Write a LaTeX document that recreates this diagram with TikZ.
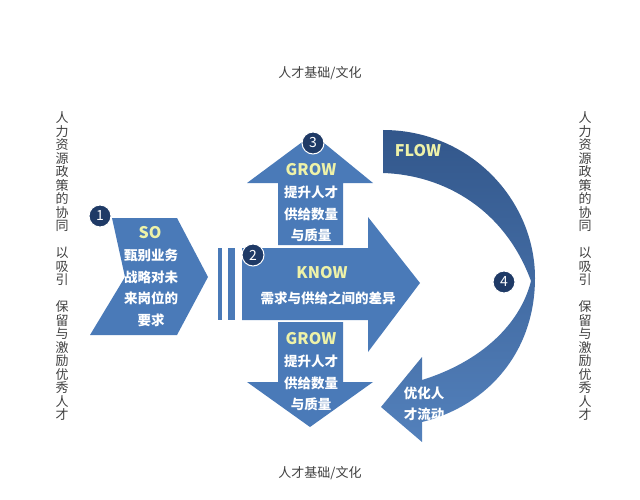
\documentclass[tikz,border=0pt]{standalone}
\usepackage{fontspec}
\newfontfamily\cjk{Noto Sans CJK SC}
\usetikzlibrary{positioning}
\definecolor{shapeblue}{HTML}{4A7AB8}
\definecolor{navy}{HTML}{1F3A66}
\definecolor{paleyellow}{HTML}{EEF2A8}
\tikzset{
  shapefill/.style={fill=shapeblue, draw=none},
  numdot/.style={circle, fill=navy, draw=white, line width=1pt, minimum size=22pt, inner sep=0pt, text=white, font=\cjk\fontsize{14}{14}\selectfont},
  engtext/.style={text=paleyellow, font=\cjk\bfseries\fontsize{16}{16}\selectfont},
  cntext/.style={text=white, align=center, font=\cjk\bfseries\fontsize{13.5}{21.5}\selectfont},
  sidetext/.style={align=center, text=black!75, font=\cjk\fontsize{13}{13.5}\selectfont}
}
\begin{document}
\begin{tikzpicture}[x=1pt, y=-1pt]
\useasboundingbox (0,0) rectangle (640,500);

% Side and top texts %
\node[sidetext] (topbase) at (320,73) {人才基础/文化};
\node[sidetext] (botbase) at (320,473) {人才基础/文化};
\node[sidetext] (leftcol) at (62,266) {人\\力\\资\\源\\政\\策\\的\\协\\同\\ \\以\\吸\\引\\ \\保\\留\\与\\激\\励\\优\\秀\\人\\才};
\node[sidetext] (rightcol) at (585,266) {人\\力\\资\\源\\政\\策\\的\\协\\同\\ \\以\\吸\\引\\ \\保\\留\\与\\激\\励\\优\\秀\\人\\才};

% Shapes %
\fill[shapefill] (112,218) -- (177,218) -- (208,277) -- (177,335) -- (90,335) -- (125,277) -- cycle;
\fill[shapefill] (218,248) rectangle (222,320);
\fill[shapefill] (228,248) rectangle (235,320);
\fill[shapefill] (242,248) -- (368,248) -- (368,217) -- (420,283) -- (368,352) -- (368,320) -- (242,320) -- cycle;
\fill[shapefill] (278,245) -- (278,183) -- (247,183) -- (313,134) -- (373,183) -- (343,183) -- (343,245) -- cycle;
\fill[shapefill] (278,322) -- (278,382) -- (247,382) -- (310,427) -- (373,382) -- (343,382) -- (343,322) -- cycle;
\shade[top color=navy!55!shapeblue, bottom color=shapeblue!95!white]
  (383,130) .. controls (470,130) and (535,200) .. (535,278)
  .. controls (535,350) and (490,405) .. (422,422)
  -- (422,442) -- (381,407) -- (422,357) -- (422,380)
  .. controls (480,362) and (520,325) .. (531,281)
  .. controls (505,210) and (445,175) .. (383,173) -- cycle;

% Number dots %
\node[numdot] (n1) at (100,216) {1};
\node[numdot] (n2) at (253,255) {2};
\node[numdot] (n3) at (313,143) {3};
\node[numdot] (n4) at (504,282) {4};

% Labels %
\node[engtext] (so) at (150,233) {SO};
\node[cntext] (sotext) at (151,288) {甄别业务\\战略对未\\来岗位的\\要求};
\node[engtext] (know) at (322,273) {KNOW};
\node[cntext] (knowtext) at (328,298) {需求与供给之间的差异};
\node[engtext] (growup) at (311,170) {GROW};
\node[cntext] (growuptext) at (311,214) {提升人才\\供给数量\\与质量};
\node[engtext] (growdown) at (311,339) {GROW};
\node[cntext] (growdowntext) at (311,383) {提升人才\\供给数量\\与质量};
\node[engtext] (flow) at (418,151) {FLOW};
\node[cntext] (flowtext) at (424,404) {优化人\\才流动};
\end{tikzpicture}
\end{document}
